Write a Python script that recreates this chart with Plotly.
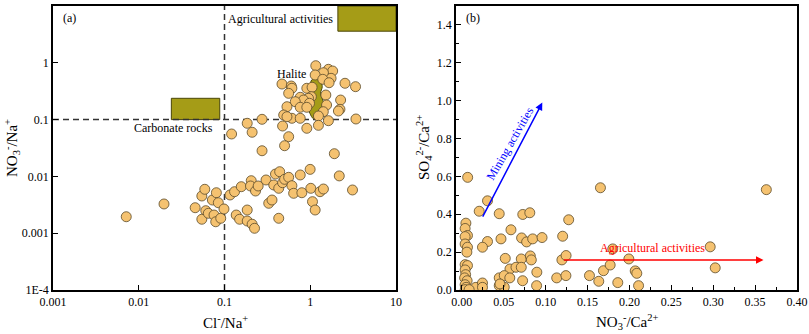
import numpy as np
import plotly.graph_objects as go

# ---------------- Panel (a): Cl-/Na+ vs NO3-/Na+ ----------------
a_cl_na = [
    0.00715, 0.0197, 0.0455, 0.0544, 0.0589, 0.0722, 0.0804, 0.0847, 0.0605, 0.0544,
    0.0648, 0.0755, 0.079, 0.0904, 0.0986, 0.116, 0.131, 0.157, 0.137, 0.150,
    0.184, 0.184, 0.210, 0.224, 0.205, 0.201, 0.230, 0.247, 0.305, 0.375,
    0.328, 0.358, 0.393, 0.440, 0.429, 0.429, 0.476, 0.502, 0.560, 0.611,
    0.640, 0.764, 0.798, 0.997, 1.015, 1.062, 1.141, 1.30, 1.425, 2.18, 3.11,
    1.16, 1.628, 1.826, 1.424, 1.141, 1.750, 1.40, 1.658, 2.542, 3.374,
    0.468, 0.601, 0.611, 0.912, 1.05, 0.560, 1.52, 0.764, 1.03, 0.954,
    0.835, 2.26, 0.669, 0.98, 0.535, 0.764, 0.912, 1.55, 2.22, 2.13,
    1.42, 0.490, 0.611, 0.535, 0.764, 1.246, 1.628, 3.41, 0.274, 0.184,
    0.476, 1.246, 0.912, 0.121, 0.210, 0.560, 0.502, 0.274, 1.91,
]
a_no3_na = [
    0.00195, 0.00327, 0.00281, 0.00452, 0.00593, 0.00384, 0.00516, 0.00344, 0.00249, 0.00176,
    0.00224, 0.00209, 0.00159, 0.00183, 0.00267, 0.00471, 0.00538, 0.00659, 0.00209, 0.00176,
    0.00256, 0.00164, 0.00144, 0.00122, 0.0084, 0.00678, 0.00553, 0.00678, 0.00865, 0.00706,
    0.00336, 0.00384, 0.0110, 0.0121, 0.00617, 0.00183, 0.00774, 0.00889, 0.00964, 0.00686,
    0.00504, 0.0106, 0.00516, 0.0133, 0.00617, 0.00359, 0.00256, 0.00538, 0.0060, 0.0102, 0.00577,
    0.889, 0.768, 0.717, 0.669, 0.610, 0.533, 0.512, 0.446, 0.436, 0.380,
    0.423, 0.390, 0.356, 0.356, 0.371, 0.290, 0.271, 0.247, 0.253, 0.237,
    0.221, 0.221, 0.2066, 0.1936, 0.1687, 0.1646, 0.1646, 0.1807, 0.1518, 0.1417,
    0.1377, 0.1205, 0.1054, 0.1125, 0.1054, 0.1157, 0.0957, 0.1025, 0.1012, 0.0861,
    0.0771, 0.0793, 0.0703, 0.0558, 0.0598, 0.050, 0.0347, 0.0283, 0.0251,
]

# End-member boxes (a)
agri_box_x = [2.1, 10.0]
agri_box_y = [3.6, 10.0]
carb_box_x = [0.024, 0.088]
carb_box_y = [0.1, 0.237]
halite_x = [1.16, 1.33, 1.38, 1.32, 1.40, 1.47, 1.40, 1.25, 1.09, 0.99,
            0.95, 1.04, 1.06, 1.00, 1.00, 1.04]
halite_y = [0.540, 0.465, 0.380, 0.290, 0.221, 0.158, 0.1205, 0.1000, 0.1030, 0.129,
            0.158, 0.2066, 0.271, 0.332, 0.418, 0.500]

a_xticks = [0.001, 0.01, 0.1, 1, 10]
a_xticklabels = ["0.001", "0.01", "0.1", "1", "10"]
a_yticks = [1e-4, 0.001, 0.01, 0.1, 1, 10]
a_yticklabels = ["1E-4", "0.001", "0.01", "0.1", "1", "10"]
threshold = 0.1

# ---------------- Panel (b): NO3-/Ca2+ vs SO4 2-/Ca2+ ----------------
b_no3_ca = [
    0.0069, 0.1654, 0.3634, 0.0306, 0.0207, 0.0446, 0.0727, 0.0811, 0.1275, 0.0048,
    0.0039, 0.0067, 0.0039, 0.0586, 0.0306, 0.0467, 0.0713, 0.0773, 0.0845, 0.0957,
    0.1203, 0.0039, 0.0067, 0.0246, 0.2964, 0.1801, 0.0518, 0.0709, 0.0817, 0.0829,
    0.1194, 0.1244, 0.1993, 0.0039, 0.0067, 0.0574, 0.0646, 0.0709, 0.0039, 0.0895,
    0.169, 0.177, 0.3024, 0.2069, 0.2088, 0.0045, 0.0033, 0.0446, 0.0506, 0.0572,
    0.1132, 0.1242, 0.1523, 0.1634, 0.1861, 0.2109, 0.0063, 0.0039, 0.0051, 0.0167,
    0.0246, 0.0246, 0.0446, 0.0506, 0.0725, 0.0892, 0.0455, 0.004, 0.0087, 0.006,
]
b_so4_ca = [
    0.595, 0.540, 0.530, 0.471, 0.416, 0.403, 0.399, 0.408, 0.371, 0.353,
    0.325, 0.288, 0.282, 0.318, 0.256, 0.270, 0.275, 0.254, 0.270, 0.277,
    0.284, 0.243, 0.226, 0.226, 0.228, 0.217, 0.167, 0.164, 0.180, 0.159,
    0.159, 0.182, 0.164, 0.134, 0.129, 0.111, 0.120, 0.120, 0.106, 0.094,
    0.102, 0.132, 0.117, 0.101, 0.088, 0.081, 0.064, 0.064, 0.076, 0.064,
    0.064, 0.076, 0.076, 0.046, 0.039, 0.023, 0.049, 0.028, 0.014, 0.014,
    0.037, 0.014, 0.023, 0.015, 0.049, 0.023, 0.032, 0.002, 0.002, 0.200,
]
mining_arrow = {"x0": 0.024, "y0": 0.38, "x1": 0.096, "y1": 0.99}
agri_arrow = {"x0": 0.120, "y0": 0.159, "x1": 0.360, "y1": 0.159}

FONT = "Liberation Serif, Times New Roman, serif"
PT_FILL = "#F5C270"
PT_LINE = "#5a4a2a"
OLIVE = "#A59C17"

fig = go.Figure()

# boxes and halite field (a)
fig.add_trace(go.Scatter(
    x=[agri_box_x[0], agri_box_x[1], agri_box_x[1], agri_box_x[0], agri_box_x[0]],
    y=[agri_box_y[0], agri_box_y[0], agri_box_y[1], agri_box_y[1], agri_box_y[0]],
    mode="lines", fill="toself", fillcolor=OLIVE, line=dict(color="#4a4608", width=1),
    hoverinfo="skip", showlegend=False, xaxis="x", yaxis="y"))
fig.add_trace(go.Scatter(
    x=[carb_box_x[0], carb_box_x[1], carb_box_x[1], carb_box_x[0], carb_box_x[0]],
    y=[carb_box_y[0], carb_box_y[0], carb_box_y[1], carb_box_y[1], carb_box_y[0]],
    mode="lines", fill="toself", fillcolor=OLIVE, line=dict(color="#4a4608", width=1),
    hoverinfo="skip", showlegend=False, xaxis="x", yaxis="y"))
fig.add_trace(go.Scatter(
    x=halite_x + [halite_x[0]], y=halite_y + [halite_y[0]],
    mode="lines", fill="toself", fillcolor=OLIVE, line=dict(color="#4a4608", width=1, shape="spline"),
    hoverinfo="skip", showlegend=False, xaxis="x", yaxis="y"))

# dashed threshold lines (a)
fig.add_trace(go.Scatter(
    x=[threshold, threshold], y=[a_yticks[0], a_yticks[-1]], mode="lines",
    line=dict(color="#333333", width=1.5, dash="6px,4px"),
    hoverinfo="skip", showlegend=False, xaxis="x", yaxis="y"))
fig.add_trace(go.Scatter(
    x=[a_xticks[0], a_xticks[-1]], y=[threshold, threshold], mode="lines",
    line=dict(color="#333333", width=1.5, dash="6px,4px"),
    hoverinfo="skip", showlegend=False, xaxis="x", yaxis="y"))

# points (a)
fig.add_trace(go.Scatter(
    x=a_cl_na, y=a_no3_na, mode="markers",
    marker=dict(size=10, color=PT_FILL, line=dict(color=PT_LINE, width=0.8)),
    showlegend=False, xaxis="x", yaxis="y"))

# points (b)
fig.add_trace(go.Scatter(
    x=b_no3_ca, y=b_so4_ca, mode="markers",
    marker=dict(size=10, color=PT_FILL, line=dict(color=PT_LINE, width=0.8)),
    showlegend=False, xaxis="x2", yaxis="y2"))

L = np.log10
ann = []
tf = dict(family=FONT, size=12, color="black")
# panel (a) texts
ann.append(dict(x=L(0.00125), y=L(6.2), xref="x", yref="y", text="(a)", showarrow=False,
                xanchor="left", yanchor="middle", font=tf))
ann.append(dict(x=L(1.95), y=L(5.9), xref="x", yref="y", text="Agricultural activities",
                showarrow=False, xanchor="right", yanchor="middle", font=tf))
ann.append(dict(x=L(0.6), y=L(0.64), xref="x", yref="y", text="Halite",
                showarrow=False, xanchor="center", yanchor="middle", font=tf))
ann.append(dict(x=L(0.078), y=L(0.07), xref="x", yref="y", text="Carbonate rocks",
                showarrow=False, xanchor="right", yanchor="middle", font=tf))
# panel (b) texts
ann.append(dict(x=0.002, y=1.437, xref="x2", yref="y2", text="(b)", showarrow=False,
                xanchor="left", yanchor="middle", font=tf))
ann.append(dict(x=mining_arrow["x1"], y=mining_arrow["y1"], ax=mining_arrow["x0"], ay=mining_arrow["y0"],
                xref="x2", yref="y2", axref="x2", ayref="y2", text="", showarrow=True,
                arrowhead=2, arrowsize=1, arrowwidth=1.5, arrowcolor="#0000ff"))
ann.append(dict(x=0.058, y=0.775, xref="x2", yref="y2", text="Mining activities",
                showarrow=False, textangle=-60, xanchor="center", yanchor="middle",
                font=dict(family=FONT, size=12, color="#0000ff")))
ann.append(dict(x=agri_arrow["x1"], y=agri_arrow["y1"], ax=agri_arrow["x0"], ay=agri_arrow["y0"],
                xref="x2", yref="y2", axref="x2", ayref="y2", text="", showarrow=True,
                arrowhead=2, arrowsize=1, arrowwidth=1.5, arrowcolor="#ff0000"))
ann.append(dict(x=0.2273, y=0.221, xref="x2", yref="y2", text="Agricultural activities",
                showarrow=False, xanchor="center", yanchor="middle",
                font=dict(family=FONT, size=12, color="#ff0000")))

# axis titles
titf = dict(family=FONT, size=15, color="black")
ann.append(dict(x=225 / 809, y=1 - 322 / 334, xref="paper", yref="paper",
                xanchor="center", yanchor="middle",
                text="Cl<sup>-</sup>/Na<sup>+</sup>", showarrow=False, font=titf))
ann.append(dict(x=12 / 809, y=1 - 148 / 334, xref="paper", yref="paper", textangle=-90,
                xanchor="center", yanchor="middle",
                text="NO<sub>3</sub><sup>-</sup>/Na<sup>+</sup>", showarrow=False, font=titf))
ann.append(dict(x=627 / 809, y=1 - 322 / 334, xref="paper", yref="paper",
                xanchor="center", yanchor="middle",
                text="NO<sub>3</sub><sup>-</sup>/Ca<sup>2+</sup>", showarrow=False, font=titf))
ann.append(dict(x=424 / 809, y=1 - 148 / 334, xref="paper", yref="paper", textangle=-90,
                xanchor="center", yanchor="middle",
                text="SO<sub>4</sub><sup>2-</sup>/Ca<sup>2+</sup>", showarrow=False, font=titf))

axis_common = dict(showline=True, linecolor="black", linewidth=1.6, mirror=True,
                   ticks="inside", ticklen=5, tickwidth=1.2, tickcolor="black",
                   showgrid=False, zeroline=False, automargin=False,
                   tickfont=dict(family=FONT, size=12, color="black"))

fig.update_layout(
    template="none",
    width=809, height=334,
    margin=dict(l=0, r=0, t=0, b=0, pad=0),
    plot_bgcolor="white", paper_bgcolor="white",
    showlegend=False,
    annotations=ann,
    xaxis=dict(domain=[53 / 809, 396 / 809], type="log", range=[-3, 1],
               tickvals=a_xticks, ticktext=a_xticklabels, anchor="y", **axis_common),
    yaxis=dict(domain=[1 - 290 / 334, 1 - 6 / 334], type="log", range=[-4, 1],
               tickvals=a_yticks, ticktext=a_yticklabels, anchor="x", **axis_common),
    xaxis2=dict(domain=[456 / 809, 797 / 809], range=[-0.007, 0.40], dtick=0.05, tick0=0,
                tickformat=".2f", anchor="y2",
                minor=dict(dtick=0.025, ticks="inside", ticklen=3, tickcolor="black"),
                **axis_common),
    yaxis2=dict(domain=[1 - 290 / 334, 1 - 6 / 334], range=[0, 1.5], dtick=0.2, tick0=0,
                tickformat=".1f", anchor="x2",
                minor=dict(dtick=0.1, ticks="inside", ticklen=3, tickcolor="black"),
                **axis_common),
)

fig.write_html("out.html", config={"displayModeBar": False},
               post_script="document.body.style.margin='0';document.body.style.padding='0';document.body.style.overflow='hidden';")
